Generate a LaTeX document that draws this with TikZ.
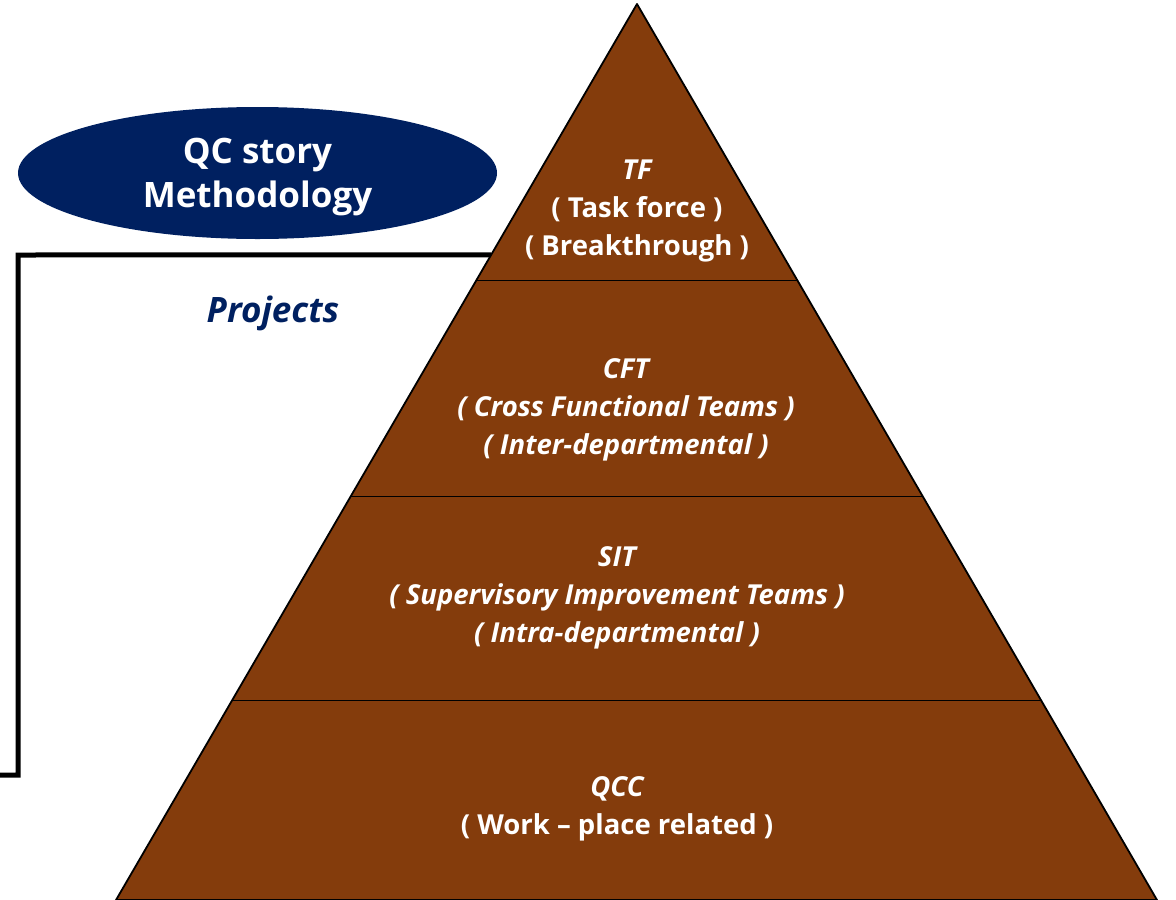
\documentclass[tikz,border=0pt]{standalone}
\usepackage{fontspec}
\setmainfont{Open Sans}
\usepackage{xcolor}
\usepackage{tikz}
\usetikzlibrary{shapes}
\usetikzlibrary{positioning}
\usetikzlibrary{shapes.geometric}
\usetikzlibrary{calc}

\definecolor{qcbrown}{RGB}{132,60,12}
\definecolor{qcnavy}{RGB}{0,32,96}

\begin{document}
\begin{tikzpicture}[x=1pt, y=-1pt,
	thick,
	font=\bfseries
]
\tikzset{
    tiertext/.style = {align=center,text=white,font=\fontsize{27.5}{38}\selectfont\bfseries},
		tieritalic/.style = {tiertext,font=\fontsize{27.5}{38}\selectfont\bfseries\itshape},
		storynode/.style = {ellipse,fill=qcnavy,text=white,align=center,minimum width=479pt,minimum height=132pt,inner sep=0pt,text depth=0pt,font=\fontsize{35}{44}\selectfont\bfseries},
		bracketline/.style = {draw=black,line width=5pt,line join=miter},
		divider/.style = {draw=black,line width=0.8pt}
}
\useasboundingbox (0,0) rectangle (1176,900);
\clip (0,0) rectangle (1176,900);

% pyramid corners
\coordinate (apex) at (637,4);
\coordinate (bl) at (116,900);
\coordinate (br) at (1157,900);
% tier borders
\coordinate (l1) at ($(apex)!0.309!(bl)$);
\coordinate (r1) at ($(apex)!0.309!(br)$);
\coordinate (l2) at ($(apex)!0.550!(bl)$);
\coordinate (r2) at ($(apex)!0.550!(br)$);
\coordinate (l3) at ($(apex)!0.777!(bl)$);
\coordinate (r3) at ($(apex)!0.777!(br)$);
\coordinate (brk) at ($(apex)!0.280!(bl)$);
\coordinate (brkTop) at (18,255);
\coordinate (brkBot) at (18,775);
\coordinate (brkEnd) at (0,775);

% bracket behind the pyramid
\draw[bracketline] (brkEnd) -- (brkBot) -- (brkTop) -- (brk);

\filldraw[fill=qcbrown,draw=black,line width=1.8pt,line join=round] (apex) -- (bl) -- (br) -- cycle;
\draw[divider] (l1) -- (r1);
\draw[divider] (l2) -- (r2);
\draw[divider] (l3) -- (r3);

\node[storynode] (story) at (257.5,173) {QC story\\Methodology};
\node[font=\fontsize{35}{40}\selectfont\bfseries\itshape,text=qcnavy] (projects) at (273,313) {Projects};

\node[tiertext] (TF) at (637,211) {{\itshape TF}\\( Task force )\\( Breakthrough )};
\node[tieritalic] (CFT) at (626,410) {CFT\\( Cross Functional Teams )\\( Inter-departmental )};
\node[tieritalic] (SIT) at (617,598) {SIT\\( Supervisory Improvement Teams )\\( Intra-departmental )};
\node[tiertext] (QCC) at (617,809) {{\itshape QCC}\\( Work -- place related )};
\end{tikzpicture}
\end{document}
